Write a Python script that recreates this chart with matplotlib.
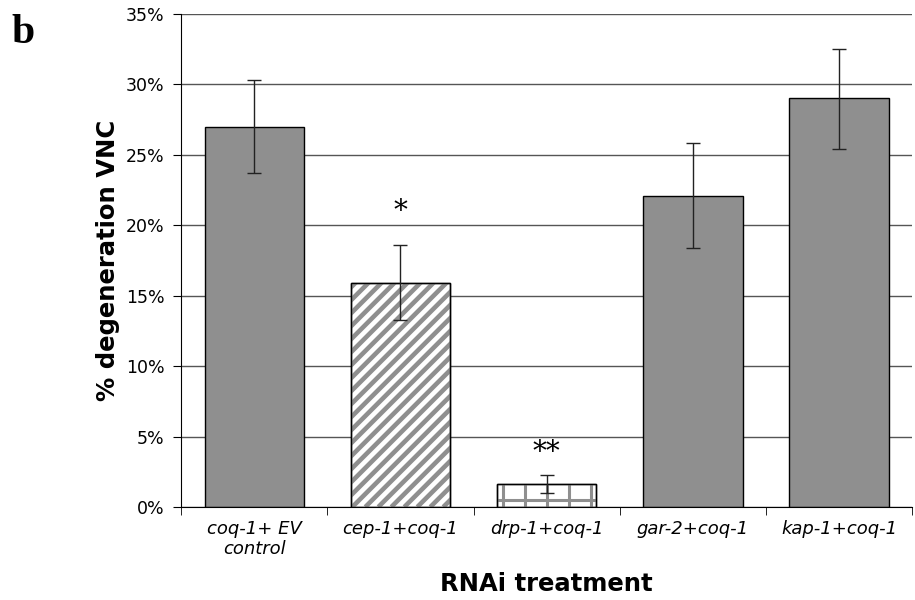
import numpy as np
import matplotlib
matplotlib.use("Agg")
import matplotlib.pyplot as plt
from matplotlib.ticker import MultipleLocator, FuncFormatter

# data
labels = ["coq-1+ EV\ncontrol", "cep-1+coq-1", "drp-1+coq-1", "gar-2+coq-1", "kap-1+coq-1"]
values = [27.0, 15.9, 1.6, 22.1, 29.0]
err_hi = [30.3, 18.6, 2.3, 25.8, 32.5]
err_lo = [23.7, 13.3, 1.0, 18.4, 25.4]
stars = ["", "*", "**", "", ""]
star_y = [0, 21.0, 3.9, 0, 0]
fills = ["solid", "diag", "grid", "solid", "solid"]

GRAY = "#8f8f8f"

x = np.arange(len(labels))
yerr = [np.array(values) - np.array(err_lo), np.array(err_hi) - np.array(values)]

fig = plt.figure(figsize=(9.15, 6), dpi=100)
ax = fig.add_axes([0.198, 0.155, 0.799, 0.822])

ax.set_xlim(-0.5, len(labels) - 0.5)
ax.set_ylim(0, 35)
ax.set_axisbelow(True)
ax.yaxis.grid(True, color="#555555", linewidth=1)

# pixel scale of the data units, used for the hand made hatch textures
bb = ax.get_window_extent()
px_x = bb.width / 5.0
px_y = bb.height / 35.0

w = 0.68
for i, kind in enumerate(fills):
    if kind == "solid":
        ax.bar(x[i], values[i], w, color=GRAY, edgecolor="black", linewidth=1, zorder=2)
        continue
    bar = ax.bar(x[i], values[i], w, color="white", edgecolor="black", linewidth=1, zorder=3)[0]
    x0, x1 = x[i] - w / 2, x[i] + w / 2
    if kind == "diag":
        step = 13.0 / px_x
        span = (x1 - x0) + values[i] * px_y / px_x
        for c in np.arange(x0 - span, x1 + step, step):
            xs = np.array([c, c + span + 1])
            ys = (xs - c) * px_x / px_y
            ln, = ax.plot(xs, ys, color=GRAY, linewidth=3.3, zorder=3.5, solid_capstyle="butt")
            ln.set_clip_path(bar)
    else:
        step = 22.0 / px_x
        for cx in np.arange(x0 + 6.0 / px_x, x1, step):
            ln, = ax.plot([cx, cx], [0, values[i]], color=GRAY, linewidth=2.2, zorder=3.5)
            ln.set_clip_path(bar)
        for cy in np.arange(7.0 / px_y, values[i], 22.0 / px_y):
            ln, = ax.plot([x0, x1], [cy, cy], color=GRAY, linewidth=2.2, zorder=3.5)
            ln.set_clip_path(bar)
    ax.bar(x[i], values[i], w, color="none", edgecolor="black", linewidth=1, zorder=4)

ax.errorbar(x, values, yerr=yerr, fmt="none", ecolor="#222222", elinewidth=1,
            capsize=5, capthick=1, zorder=5)

for i, s in enumerate(stars):
    if s:
        ax.text(x[i], star_y[i], s, ha="center", va="center",
                fontsize=20, family="DejaVu Serif")

ax.yaxis.set_major_locator(MultipleLocator(5))
ax.yaxis.set_major_formatter(FuncFormatter(lambda v, p: "%d%%" % v))
ax.tick_params(axis="y", labelsize=12.5, length=6, direction="out", pad=6)

ax.set_xticks(x)
ax.set_xticklabels(labels, fontstyle="italic", fontsize=13)
ax.tick_params(axis="x", length=0, pad=9)
ax.set_xticks(np.arange(len(labels) + 1) - 0.5, minor=True)
ax.tick_params(axis="x", which="minor", length=6, direction="out")

for side in ["top", "right"]:
    ax.spines[side].set_visible(False)

ax.set_ylabel("% degeneration VNC", fontsize=17.5, fontweight="bold", labelpad=4)
ax.set_xlabel("RNAi treatment", fontsize=17.5, fontweight="bold", labelpad=10)

fig.text(0.012, 0.928, "b", fontsize=30, fontweight="bold", family="Liberation Serif")

fig.savefig("out.png", dpi=100)
